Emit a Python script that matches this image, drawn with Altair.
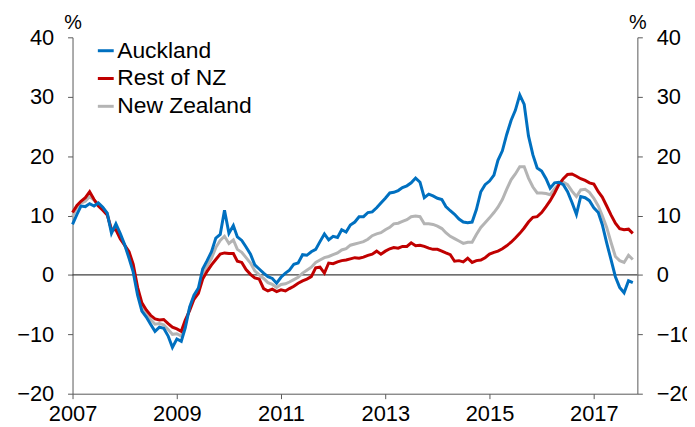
import altair as alt
import pandas as pd

# monthly observations, Jan 2007 - Oct 2017
months = [d.strftime("%Y-%m-%d") for d in pd.date_range("2007-01-01", periods=130, freq="MS")]

series_names = ["Auckland", "Rest of NZ", "New Zealand"]
series_colors = ["#0070C0", "#C00000", "#B4B4B4"]

auckland = [
    8.5, 10.2, 11.6, 11.5, 12.0, 11.6, 12.1, 11.4, 10.4, 7.0, 8.6, 7.0,
    5.1, 2.8, 0.5, -3.4, -6.1, -7.1, -8.3, -9.5, -8.8, -9.0, -10.3, -12.2,
    -10.8, -11.2, -8.9, -5.4, -3.4, -2.2, 1.0, 2.4, 3.9, 6.2, 6.8, 10.9,
    7.0, 8.3, 6.4, 5.8, 4.7, 3.5, 1.7, 1.0, 0.3, -0.3, -0.6, -1.4,
    -0.4, 0.3, 0.8, 1.8, 2.0, 3.4, 3.3, 3.9, 4.3, 5.6, 6.9, 5.9,
    6.5, 6.3, 7.6, 7.2, 8.4, 8.9, 9.8, 9.8, 10.5, 10.6, 11.3, 12.1,
    12.9, 13.8, 13.9, 14.2, 14.7, 15.0, 15.5, 16.3, 15.6, 13.0, 13.6, 13.3,
    12.9, 12.7, 11.5, 10.8, 10.2, 9.4, 8.9, 8.8, 8.9, 11.0, 14.0, 15.2,
    15.8, 16.8, 19.3, 20.9, 23.6, 26.0, 27.7, 30.3, 28.7, 23.4, 20.2, 18.0,
    17.5, 16.2, 14.6, 15.5, 15.6, 15.2, 14.0, 12.2, 10.2, 13.2, 13.0, 12.5,
    11.3, 10.5, 8.5, 5.4, 2.6, -0.3, -2.1, -3.0, -1.0, -1.3,
]

rest_of_nz = [
    10.5, 11.7, 12.4, 13.0, 14.0, 12.7, 11.6, 10.9, 10.1, 7.6, 7.6, 6.1,
    5.0, 3.9, 1.8, -2.1, -4.7, -5.9, -6.8, -7.4, -7.6, -7.5, -8.2, -8.8,
    -9.1, -9.5, -7.6, -6.0, -4.1, -3.1, -0.7, 0.6, 1.7, 2.6, 3.5, 3.7,
    3.6, 3.6, 2.3, 2.1, 0.9, 0.1, -0.5, -0.7, -2.3, -2.7, -2.4, -2.8,
    -2.5, -2.7, -2.3, -1.9, -1.4, -1.0, -0.7, -0.3, 1.2, 1.3, 0.3, 2.0,
    1.9, 2.2, 2.4, 2.5, 2.7, 2.9, 2.8, 3.0, 3.3, 3.5, 4.0, 3.5,
    4.0, 4.4, 4.6, 4.5, 4.8, 4.8, 5.4, 4.9, 5.0, 4.8, 4.5, 4.3,
    4.3, 4.0, 3.7, 3.4, 2.3, 2.4, 2.2, 2.8, 2.1, 2.4, 2.5, 2.9,
    3.5, 3.8, 4.0, 4.4, 4.9, 5.5, 6.2, 7.0, 7.9, 8.9, 9.7, 9.8,
    10.5, 11.5, 12.5, 13.8, 15.2, 16.2, 16.9, 17.0, 16.6, 16.2, 15.9, 15.5,
    15.3, 14.0, 13.1, 11.6, 10.1, 8.7, 7.8, 7.6, 7.7, 7.0,
]

new_zealand = [
    9.8, 11.4, 12.1, 12.4, 13.2, 12.6, 12.0, 11.3, 10.4, 7.6, 8.0, 6.6,
    5.0, 3.3, 1.2, -2.8, -5.4, -6.5, -7.5, -8.3, -8.2, -8.4, -9.2, -10.0,
    -9.9, -10.3, -8.2, -5.6, -3.7, -2.7, 0.3, 1.5, 2.8, 4.6, 5.8, 6.5,
    5.3, 5.9, 4.3, 3.8, 2.9, 2.0, 0.7, 0.0, -0.6, -1.3, -1.6, -2.1,
    -1.6, -1.5, -1.2, -0.8, -0.4, 0.3, 0.8, 1.3, 2.1, 2.5, 2.9, 3.1,
    3.4, 3.7, 4.2, 4.4, 5.0, 5.2, 5.4, 5.6, 6.0, 6.6, 6.9, 7.1,
    7.6, 8.0, 8.6, 8.7, 9.0, 9.3, 9.8, 9.9, 9.8, 8.6, 8.6, 8.5,
    8.2, 7.8, 7.1, 6.5, 6.1, 5.7, 5.3, 5.5, 5.5, 6.8, 8.0, 8.8,
    9.6, 10.5, 11.4, 12.7, 14.4, 16.0, 17.0, 18.2, 18.2, 16.3, 14.8, 13.8,
    13.8, 13.7, 13.5, 14.5, 15.3, 15.6, 15.2, 14.1, 13.2, 14.3, 14.4, 13.9,
    12.9, 11.6, 10.0, 8.0, 5.5, 3.1, 2.4, 2.1, 3.3, 2.6,
]

y_ticks = [-20, -10, 0, 10, 20, 30, 40]
x_tick_years = [2007, 2009, 2011, 2013, 2015, 2017]

df = pd.DataFrame({
    "date": months * 3,
    "series": [series_names[0]] * len(auckland) + [series_names[1]] * len(rest_of_nz) + [series_names[2]] * len(new_zealand),
    "value": auckland + rest_of_nz + new_zealand,
})

W, H = 569, 359
FONT = "Liberation Sans"

x_enc = alt.X(
    "date:T",
    scale=alt.Scale(type="utc",
                    domain=[alt.DateTime(year=2007, month=1, date=1, utc=True),
                            alt.DateTime(year=2017, month=11, date=2, utc=True)]),
    axis=alt.Axis(values=[alt.DateTime(year=y, month=1, date=1, utc=True) for y in x_tick_years],
                  format="%Y", labelPadding=5, tickSize=5, labelFontSize=22,
                  labelFont=FONT, labelColor="black", domainColor="#595959",
                  tickColor="#595959", grid=False, labelFlush=False),
    title=None,
)

y_scale = alt.Scale(domain=[-20, 40], nice=False, zero=False)

def y_axis(orient):
    return alt.Axis(orient=orient, values=y_ticks, title="%", titleAngle=0,
                    titleX=0, titleY=-9, titleAlign="center", titleBaseline="alphabetic",
                    titleFontSize=20, titleFont=FONT, titleFontWeight="normal",
                    titleColor="black", labelFontSize=22, labelFont=FONT,
                    labelColor="black", labelPadding=14, tickSize=5,
                    domainColor="#595959", tickColor="#595959", grid=False)

color_enc = alt.Color(
    "series:N",
    scale=alt.Scale(domain=series_names, range=series_colors),
    legend=alt.Legend(orient="none", legendX=22, legendY=2, title=None,
                      symbolType="stroke", symbolSize=256, symbolStrokeWidth=3,
                      labelFontSize=23, labelFont=FONT, labelColor="black",
                      rowPadding=4, padding=0, labelOffset=0),
)

base = alt.Chart(df)

zero_line = alt.Chart(pd.DataFrame({"v": [0]})).mark_rule(color="#404040", strokeWidth=1.2).encode(
    y=alt.Y("v:Q", scale=y_scale, axis=None),
    x=alt.value(0), x2=alt.value(W),
)

def series_layer(name, axis):
    return base.transform_filter(alt.datum.series == name).mark_line(strokeWidth=3).encode(
        x=x_enc,
        y=alt.Y("value:Q", scale=y_scale, axis=axis),
        color=color_enc,
    )

chart = alt.layer(
    zero_line,
    series_layer("New Zealand", y_axis("left")),
    series_layer("Rest of NZ", None),
    series_layer("Auckland", y_axis("right")),
).resolve_scale(y="shared").resolve_axis(y="independent").properties(
    width=W, height=H,
    autosize=alt.AutoSizeParams(type="none"),
    padding={"left": 65, "top": 28, "right": 50, "bottom": 30},
).configure_view(stroke=None)

chart.save("out.html", embed_options={"renderer": "svg", "actions": False})
